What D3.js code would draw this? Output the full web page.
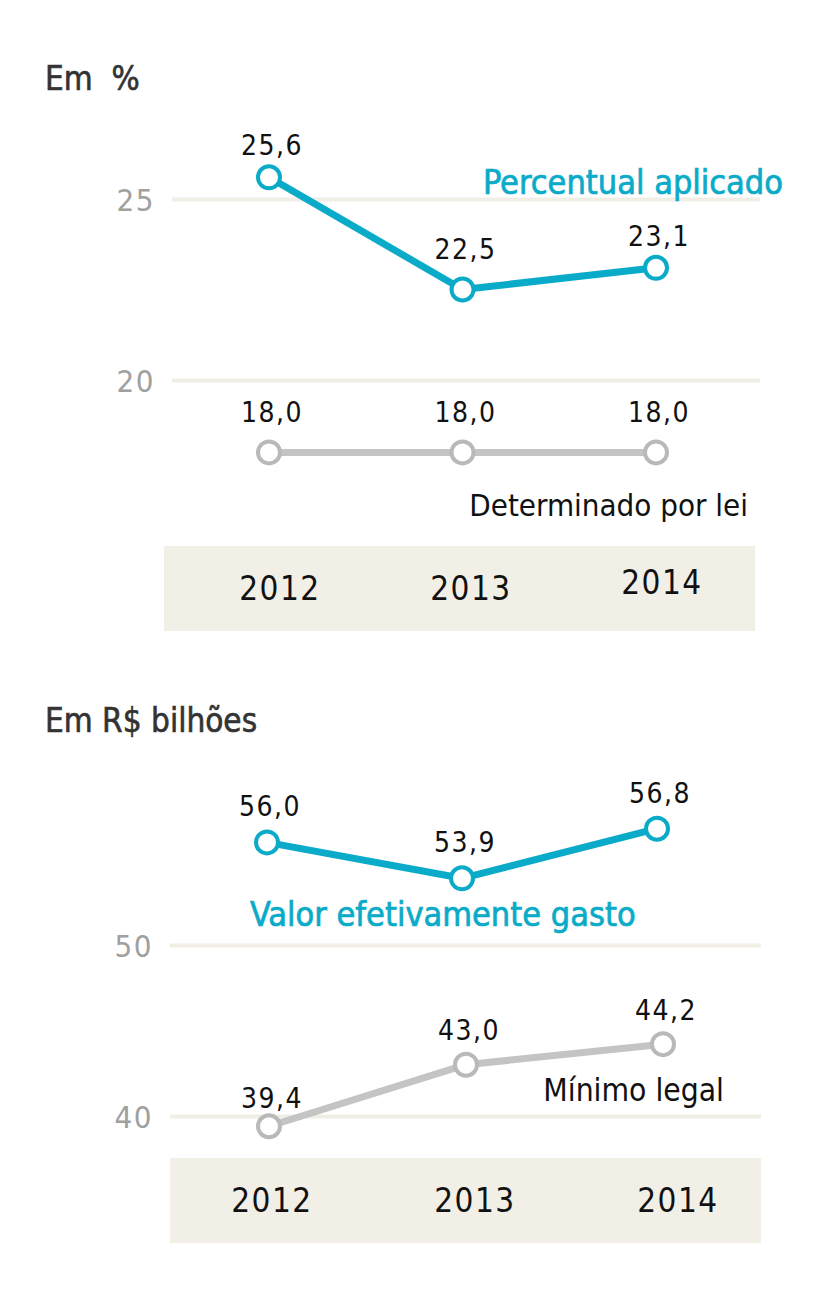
<!DOCTYPE html>
<html><head><meta charset="utf-8">
<script src="https://cdn.jsdelivr.net/npm/d3@7"></script>
<style>
html,body{margin:0;padding:0;background:#fff;}
svg text{font-family:"DejaVu Sans Condensed","DejaVu Sans",sans-serif;}
</style></head>
<body><svg id="c" width="829" height="1291"></svg>
<script>
const years = ["2012","2013","2014"];
// Chart 1: Em %
const percentAplicado = [25.6, 22.5, 23.1];
const percentLei = [18.0, 18.0, 18.0];
const ticksPct = [20, 25];
// Chart 2: Em R$ bilhões
const valorGasto = [56.0, 53.9, 56.8];
const minimoLegal = [39.4, 43.0, 44.2];
const ticksVal = [40, 50];

const BLUE = "#0aabc8", GREY = "#c4c4c4", GREYC = "#b9b9b9", GRID = "#f1eee6", BAND = "#f2efe7";
const svg = d3.select("#c");
const fmt = v => d3.format(".1f")(v).replace(".", ",");

function chart(o){
  const g = svg.append("g");
  const y = d3.scaleLinear().domain(o.domain).range(o.yRange);
  const xs = o.xRanges.map(r => d3.scalePoint().domain(years).range(r));
  // title
  g.append("text").attr("x",45).attr("y",o.titleY).attr("fill","#333").attr("stroke","#333").attr("stroke-width",0.6)
    .attr("font-size",33).style("white-space","pre").text(o.title);
  // y axis gridlines
  const ax = d3.axisLeft(y).tickValues(o.ticks).tickSize(0).tickPadding(0).tickFormat(d3.format("d"));
  const axg = g.append("g").attr("transform",`translate(${o.gridX[0]},0)`).call(ax);
  axg.select(".domain").remove();
  axg.selectAll(".tick line").attr("x2", o.gridX[1]-o.gridX[0]).attr("stroke",GRID).attr("stroke-width",4);
  axg.selectAll(".tick text").attr("x",-17).attr("dy","0.36em").attr("fill","#a0a0a0")
    .attr("font-size",31).attr("font-family","DejaVu Sans Condensed").style("letter-spacing","1.5px");
  // band with years
  g.append("rect").attr("x",o.band[0]).attr("y",o.band[1]).attr("width",o.band[2]).attr("height",o.band[3]).attr("fill",BAND);
  const xb = d3.scalePoint().domain(years).range(o.yearX);
  g.selectAll(".yr").data(years).join("text").attr("x",d=>xb(d)).attr("y",(d,i)=>o.yearY[i])
    .attr("text-anchor","middle").attr("font-size",33).attr("fill","#111").style("letter-spacing","1.5px").text(d=>d);
  // series
  o.series.forEach((s,si)=>{
    const x = xs[si];
    const line = d3.line().x((d,i)=>x(years[i])).y(d=>y(d));
    g.append("path").datum(s.values).attr("d",line).attr("fill","none").attr("stroke",s.color).attr("stroke-width",7).attr("stroke-linejoin","round");
    g.selectAll(null).data(s.values).join("circle").attr("cx",(d,i)=>x(years[i])).attr("cy",d=>y(d)).attr("r",11)
      .attr("fill","#fff").attr("stroke",s.cstroke).attr("stroke-width",4);
    g.selectAll(null).data(s.values).join("text").attr("x",(d,i)=>x(years[i])+3).attr("y",(d,i)=>y(d)-s.off[i])
      .attr("text-anchor","middle").attr("font-size",28).attr("fill","#111").style("letter-spacing","1.5px").text(d=>fmt(d));
    g.append("text").attr("x",s.lab[0]).attr("y",s.lab[1]).attr("text-anchor",s.lab[2]).attr("font-size",s.labSize)
      .attr("fill",s.labColor).attr("stroke",s.labColor).attr("stroke-width",s.labBold?0.7:0).text(s.name);
  });
}

chart({title:"Em  %", titleY:90, domain:[20,25], yRange:[380,199], ticks:ticksPct, gridX:[172,760],
  xRanges:[[269,656],[269,656]], band:[164,546,591,85], yearX:[280,662], yearY:[600,600,594],
  series:[
    {name:"Percentual aplicado", values:percentAplicado, color:BLUE, cstroke:BLUE, off:[22,31,22], lab:[783,194,"end"], labColor:BLUE, labBold:true, labSize:34},
    {name:"Determinado por lei", values:percentLei, color:GREY, cstroke:GREYC, off:[30,30,30], lab:[748,516,"end"], labColor:"#111", labBold:false, labSize:31}
  ]});

chart({title:"Em R$ bilhões", titleY:732, domain:[40,50], yRange:[1116,945], ticks:ticksVal, gridX:[170,761],
  xRanges:[[267,657],[269,663]], band:[170,1158,591,85], yearX:[272,678], yearY:[1212,1212,1212],
  series:[
    {name:"Valor efetivamente gasto", values:valorGasto, color:BLUE, cstroke:BLUE, off:[26,26,26], lab:[250,926,"start"], labColor:BLUE, labBold:true, labSize:34},
    {name:"Mínimo legal", values:minimoLegal, color:GREY, cstroke:GREYC, off:[18,25,24], lab:[724,1101,"end"], labColor:"#111", labBold:false, labSize:31.5}
  ]});
</script></body></html>
